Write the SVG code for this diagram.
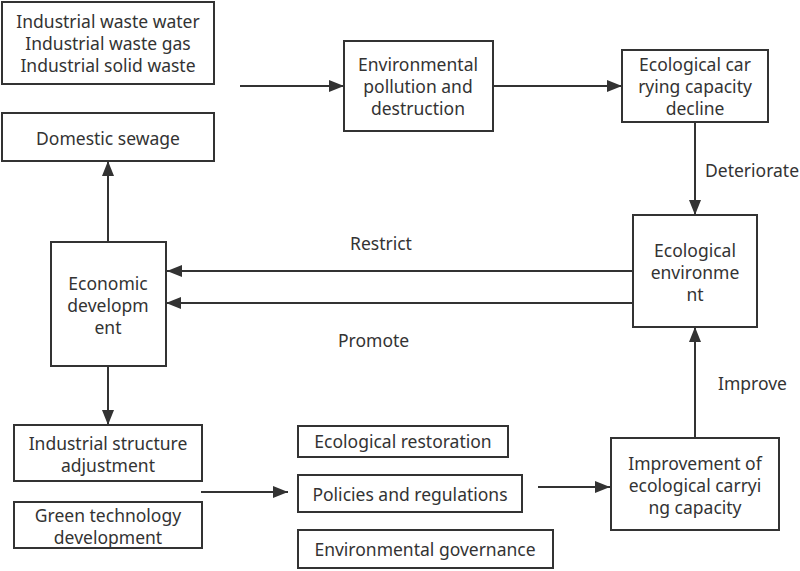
<svg xmlns="http://www.w3.org/2000/svg" width="800" height="571" viewBox="0 0 800 571">
<style>
.box{fill:#fff;stroke:#333;stroke-width:2}
.t{font-family:"Noto Sans","Open Sans",sans-serif;font-size:17.5px;fill:#333;text-anchor:middle;dominant-baseline:central}
.lbl{font-family:"Noto Sans","Open Sans",sans-serif;font-size:17.5px;fill:#333;dominant-baseline:central}
.c{stroke:#333;stroke-width:2;fill:none;marker-end:url(#ah)}
</style>
<defs>
<marker id="ah" markerUnits="userSpaceOnUse" markerWidth="16" markerHeight="14" refX="15" refY="6" orient="auto">
<path d="M0,0 L15,6 L0,12 Z" fill="#333"/>
</marker>
</defs>
<rect width="800" height="571" fill="#fff"/>
<g id="connectors">
<line class="c" x1="240" y1="86" x2="344" y2="86"/>
<line class="c" x1="493" y1="86" x2="622" y2="86"/>
<line class="c" x1="695" y1="122" x2="695" y2="215"/>
<line class="c" x1="633" y1="271" x2="167" y2="271"/>
<line class="c" x1="633" y1="303" x2="166" y2="303"/>
<line class="c" x1="108" y1="242" x2="108" y2="161"/>
<line class="c" x1="108" y1="366" x2="108" y2="425"/>
<line class="c" x1="201" y1="492" x2="288" y2="492"/>
<line class="c" x1="538" y1="487" x2="610" y2="487"/>
<line class="c" x1="695" y1="438" x2="695" y2="327"/>
<text class="lbl" x="705" y="170">Deteriorate</text>
<text class="lbl" x="350" y="243">Restrict</text>
<text class="lbl" x="338" y="340">Promote</text>
<text class="lbl" x="718" y="383">Improve</text>
</g>
<g id="n-waste">
<rect class="box" x="2" y="2" width="212" height="82"/>
<text class="t" x="108" y="21">Industrial waste water</text>
<text class="t" x="108" y="43">Industrial waste gas</text>
<text class="t" x="108" y="65">Industrial solid waste</text>
</g>
<g id="n-sewage">
<rect class="box" x="2" y="113" width="212" height="48"/>
<text class="t" x="108" y="138">Domestic sewage</text>
</g>
<g id="n-pollution">
<rect class="box" x="344" y="41" width="149" height="90"/>
<text class="t" x="418" y="64">Environmental</text>
<text class="t" x="418" y="86">pollution and</text>
<text class="t" x="418" y="108">destruction</text>
</g>
<g id="n-decline">
<rect class="box" x="622" y="50" width="146" height="72"/>
<text class="t" x="695" y="64">Ecological car</text>
<text class="t" x="695" y="86">rying capacity</text>
<text class="t" x="695" y="108">decline</text>
</g>
<g id="n-env">
<rect class="box" x="633" y="215" width="124" height="112"/>
<text class="t" x="695" y="250">Ecological</text>
<text class="t" x="695" y="272">environme</text>
<text class="t" x="695" y="294">nt</text>
</g>
<g id="n-econ">
<rect class="box" x="51" y="242" width="115" height="124"/>
<text class="t" x="108" y="283">Economic</text>
<text class="t" x="108" y="305">developm</text>
<text class="t" x="108" y="327">ent</text>
</g>
<g id="n-industry">
<rect class="box" x="14" y="425" width="188" height="56"/>
<text class="t" x="108" y="443">Industrial structure</text>
<text class="t" x="108" y="465">adjustment</text>
</g>
<g id="n-green">
<rect class="box" x="14" y="502" width="188" height="46"/>
<text class="t" x="108" y="515">Green technology</text>
<text class="t" x="108" y="537">development</text>
</g>
<g id="n-restoration">
<rect class="box" x="298" y="426" width="210" height="31"/>
<text class="t" x="403" y="441">Ecological restoration</text>
</g>
<g id="n-policies">
<rect class="box" x="298" y="475" width="224" height="37"/>
<text class="t" x="410" y="494">Policies and regulations</text>
</g>
<g id="n-governance">
<rect class="box" x="298" y="530" width="255" height="38"/>
<text class="t" x="425" y="549">Environmental governance</text>
</g>
<g id="n-improvement">
<rect class="box" x="611" y="438" width="168" height="92"/>
<text class="t" x="695" y="463">Improvement of</text>
<text class="t" x="695" y="485">ecological carryi</text>
<text class="t" x="695" y="507">ng capacity</text>
</g>
</svg>
